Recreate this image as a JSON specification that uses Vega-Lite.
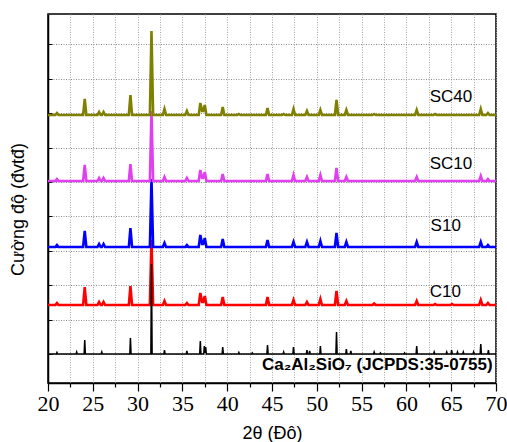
{
  "$schema": "https://vega.github.io/schema/vega-lite/v6.json",
  "width": 448,
  "height": 369,
  "autosize": {"type": "none"},
  "padding": {"left": 48, "top": 14, "right": 11, "bottom": 59},
  "background": "white",
  "config": {
    "view": {"stroke": "#000", "strokeWidth": 1.5},
    "axisX": {"labelFont": "Times New Roman, Liberation Serif, serif"}
  },
  "datasets": {
    "ref": [
      {"x":20,"y":0},
      {"x":20.93,"y":0},{"x":21.0,"y":1.5},{"x":21.07,"y":0},
      {"x":23.13,"y":0},{"x":23.2,"y":2},{"x":23.27,"y":0},
      {"x":24.03,"y":0},{"x":24.1,"y":14},{"x":24.17,"y":0},
      {"x":25.93,"y":0},{"x":26.0,"y":2},{"x":26.07,"y":0},
      {"x":29.13,"y":0},{"x":29.2,"y":16},{"x":29.27,"y":0},
      {"x":31.48,"y":0},{"x":31.55,"y":90},{"x":31.62,"y":0},
      {"x":32.93,"y":0},{"x":33.0,"y":4},{"x":33.07,"y":0},
      {"x":35.43,"y":0},{"x":35.5,"y":3},{"x":35.57,"y":0},
      {"x":36.93,"y":0},{"x":37.0,"y":13},{"x":37.07,"y":0},
      {"x":37.38,"y":0},{"x":37.45,"y":8},{"x":37.52,"y":1},{"x":37.6,"y":7},{"x":37.67,"y":0},
      {"x":39.43,"y":0},{"x":39.5,"y":7},{"x":39.57,"y":0},
      {"x":41.23,"y":0},{"x":41.3,"y":1.5},{"x":41.37,"y":0},
      {"x":42.73,"y":0},{"x":42.8,"y":1},{"x":42.87,"y":0},
      {"x":44.43,"y":0},{"x":44.5,"y":9},{"x":44.57,"y":0},
      {"x":46.23,"y":0},{"x":46.3,"y":2},{"x":46.37,"y":0},
      {"x":47.33,"y":0},{"x":47.4,"y":7},{"x":47.47,"y":0},
      {"x":48.83,"y":0},{"x":48.9,"y":4},{"x":48.97,"y":0},
      {"x":49.13,"y":0},{"x":49.2,"y":3},{"x":49.27,"y":0},
      {"x":50.33,"y":0},{"x":50.4,"y":8},{"x":50.47,"y":0},
      {"x":52.13,"y":0},{"x":52.2,"y":22},{"x":52.27,"y":0},
      {"x":53.23,"y":0},{"x":53.3,"y":5},{"x":53.37,"y":0},
      {"x":53.73,"y":0},{"x":53.8,"y":3},{"x":53.87,"y":0},
      {"x":56.33,"y":0},{"x":56.4,"y":2},{"x":56.47,"y":0},
      {"x":57.03,"y":0},{"x":57.1,"y":1},{"x":57.17,"y":0},
      {"x":59.73,"y":0},{"x":59.8,"y":1},{"x":59.87,"y":0},
      {"x":61.08,"y":0},{"x":61.15,"y":8},{"x":61.22,"y":0},
      {"x":63.03,"y":0},{"x":63.1,"y":2},{"x":63.17,"y":0},
      {"x":64.43,"y":0},{"x":64.5,"y":2},{"x":64.57,"y":0},
      {"x":64.98,"y":0},{"x":65.05,"y":4},{"x":65.12,"y":0},
      {"x":65.63,"y":0},{"x":65.7,"y":2},{"x":65.77,"y":0},
      {"x":66.28,"y":0},{"x":66.35,"y":2},{"x":66.42,"y":0},
      {"x":67.43,"y":0},{"x":67.5,"y":2},{"x":67.57,"y":0},
      {"x":68.23,"y":0},{"x":68.3,"y":10},{"x":68.37,"y":0},
      {"x":69.08,"y":0},{"x":69.15,"y":4},{"x":69.22,"y":0},
      {"x":70,"y":0}
    ],
    "c10": [
      {"x":20,"y":49},
      {"x":20.82,"y":49},{"x":21.0,"y":51},{"x":21.18,"y":49},
      {"x":23.92,"y":49},{"x":24.1,"y":67},{"x":24.28,"y":49},
      {"x":25.52,"y":49},{"x":25.7,"y":52},{"x":25.88,"y":49},
      {"x":26.02,"y":49},{"x":26.2,"y":52},{"x":26.38,"y":49},
      {"x":29.02,"y":49},{"x":29.2,"y":68},{"x":29.38,"y":49},
      {"x":31.37,"y":49},{"x":31.55,"y":114},{"x":31.73,"y":49},
      {"x":32.82,"y":49},{"x":33.0,"y":53},{"x":33.18,"y":49},
      {"x":35.32,"y":49},{"x":35.5,"y":51},{"x":35.68,"y":49},
      {"x":36.82,"y":49},{"x":37.0,"y":61},{"x":37.2,"y":52},{"x":37.32,"y":52},{"x":37.5,"y":58},{"x":37.68,"y":49},
      {"x":39.32,"y":49},{"x":39.5,"y":57},{"x":39.68,"y":49},
      {"x":44.32,"y":49},{"x":44.5,"y":57},{"x":44.68,"y":49},
      {"x":47.22,"y":49},{"x":47.4,"y":54},{"x":47.58,"y":49},
      {"x":48.72,"y":49},{"x":48.9,"y":52},{"x":49.08,"y":49},
      {"x":50.22,"y":49},{"x":50.4,"y":55},{"x":50.58,"y":49},
      {"x":52.02,"y":49},{"x":52.2,"y":63},{"x":52.38,"y":49},
      {"x":53.12,"y":49},{"x":53.3,"y":53},{"x":53.48,"y":49},
      {"x":56.22,"y":49},{"x":56.4,"y":50.5},{"x":56.58,"y":49},
      {"x":60.97,"y":49},{"x":61.15,"y":53},{"x":61.33,"y":49},
      {"x":63.02,"y":49},{"x":63.2,"y":50},{"x":63.38,"y":49},
      {"x":64.92,"y":49},{"x":65.1,"y":50},{"x":65.28,"y":49},
      {"x":68.12,"y":49},{"x":68.3,"y":54},{"x":68.48,"y":49},
      {"x":68.92,"y":49},{"x":69.1,"y":51},{"x":69.28,"y":49},
      {"x":70,"y":49}
    ],
    "s10": [
      {"x":20,"y":107},
      {"x":20.82,"y":107},{"x":21.0,"y":109},{"x":21.18,"y":107},
      {"x":23.92,"y":107},{"x":24.1,"y":123},{"x":24.28,"y":107},
      {"x":25.52,"y":107},{"x":25.7,"y":110},{"x":25.88,"y":107},
      {"x":26.02,"y":107},{"x":26.2,"y":110},{"x":26.38,"y":107},
      {"x":29.02,"y":107},{"x":29.2,"y":126},{"x":29.38,"y":107},
      {"x":31.37,"y":107},{"x":31.55,"y":175},{"x":31.73,"y":107},
      {"x":32.82,"y":107},{"x":33.0,"y":111},{"x":33.18,"y":107},
      {"x":35.32,"y":107},{"x":35.5,"y":109},{"x":35.68,"y":107},
      {"x":36.82,"y":107},{"x":37.0,"y":119},{"x":37.2,"y":110},{"x":37.32,"y":110},{"x":37.5,"y":116},{"x":37.68,"y":107},
      {"x":39.32,"y":107},{"x":39.5,"y":115},{"x":39.68,"y":107},
      {"x":44.32,"y":107},{"x":44.5,"y":114},{"x":44.68,"y":107},
      {"x":47.22,"y":107},{"x":47.4,"y":112},{"x":47.58,"y":107},
      {"x":48.72,"y":107},{"x":48.9,"y":112},{"x":49.08,"y":107},
      {"x":50.22,"y":107},{"x":50.4,"y":113},{"x":50.58,"y":107},
      {"x":52.02,"y":107},{"x":52.2,"y":121},{"x":52.38,"y":107},
      {"x":53.12,"y":107},{"x":53.3,"y":112},{"x":53.48,"y":107},
      {"x":60.97,"y":107},{"x":61.15,"y":112},{"x":61.33,"y":107},
      {"x":68.12,"y":107},{"x":68.3,"y":112},{"x":68.48,"y":107},
      {"x":68.92,"y":107},{"x":69.1,"y":109},{"x":69.28,"y":107},
      {"x":70,"y":107}
    ],
    "sc10": [
      {"x":20,"y":173},
      {"x":20.82,"y":173},{"x":21.0,"y":175},{"x":21.18,"y":173},
      {"x":23.92,"y":173},{"x":24.1,"y":189},{"x":24.28,"y":173},
      {"x":25.52,"y":173},{"x":25.7,"y":176},{"x":25.88,"y":173},
      {"x":26.02,"y":173},{"x":26.2,"y":176},{"x":26.38,"y":173},
      {"x":29.02,"y":173},{"x":29.2,"y":190},{"x":29.38,"y":173},
      {"x":31.37,"y":173},{"x":31.55,"y":243},{"x":31.73,"y":173},
      {"x":32.82,"y":173},{"x":33.0,"y":177},{"x":33.18,"y":173},
      {"x":35.32,"y":173},{"x":35.5,"y":176},{"x":35.68,"y":173},
      {"x":36.82,"y":173},{"x":37.0,"y":184},{"x":37.2,"y":176},{"x":37.32,"y":176},{"x":37.5,"y":182},{"x":37.68,"y":173},
      {"x":39.32,"y":173},{"x":39.5,"y":180},{"x":39.68,"y":173},
      {"x":44.32,"y":173},{"x":44.5,"y":180},{"x":44.68,"y":173},
      {"x":47.22,"y":173},{"x":47.4,"y":179},{"x":47.58,"y":173},
      {"x":48.72,"y":173},{"x":48.9,"y":177},{"x":49.08,"y":173},
      {"x":50.22,"y":173},{"x":50.4,"y":179},{"x":50.58,"y":173},
      {"x":52.02,"y":173},{"x":52.2,"y":186},{"x":52.38,"y":173},
      {"x":53.12,"y":173},{"x":53.3,"y":177},{"x":53.48,"y":173},
      {"x":60.97,"y":173},{"x":61.15,"y":177},{"x":61.33,"y":173},
      {"x":68.12,"y":173},{"x":68.3,"y":178},{"x":68.48,"y":173},
      {"x":68.92,"y":173},{"x":69.1,"y":175},{"x":69.28,"y":173},
      {"x":70,"y":173}
    ],
    "sc40": [
      {"x":20,"y":239},
      {"x":20.82,"y":239},{"x":21.0,"y":241},{"x":21.18,"y":239},
      {"x":23.92,"y":239},{"x":24.1,"y":255},{"x":24.28,"y":239},
      {"x":25.52,"y":239},{"x":25.7,"y":242},{"x":25.88,"y":239},
      {"x":26.02,"y":239},{"x":26.2,"y":242},{"x":26.38,"y":239},
      {"x":29.02,"y":239},{"x":29.2,"y":259},{"x":29.38,"y":239},
      {"x":31.37,"y":239},{"x":31.55,"y":323},{"x":31.73,"y":239},
      {"x":32.82,"y":239},{"x":33.0,"y":245},{"x":33.18,"y":239},
      {"x":35.32,"y":239},{"x":35.5,"y":243},{"x":35.68,"y":239},
      {"x":36.82,"y":239},{"x":37.0,"y":251},{"x":37.2,"y":243},{"x":37.32,"y":243},{"x":37.5,"y":249},{"x":37.68,"y":239},
      {"x":39.32,"y":239},{"x":39.5,"y":247},{"x":39.68,"y":239},
      {"x":41.12,"y":239},{"x":41.3,"y":240},{"x":41.48,"y":239},
      {"x":44.32,"y":239},{"x":44.5,"y":246},{"x":44.68,"y":239},
      {"x":46.12,"y":239},{"x":46.3,"y":240},{"x":46.48,"y":239},
      {"x":47.22,"y":239},{"x":47.4,"y":245},{"x":47.58,"y":239},
      {"x":48.72,"y":239},{"x":48.9,"y":243},{"x":49.08,"y":239},
      {"x":50.22,"y":239},{"x":50.4,"y":244},{"x":50.58,"y":239},
      {"x":52.02,"y":239},{"x":52.2,"y":254},{"x":52.38,"y":239},
      {"x":53.12,"y":239},{"x":53.3,"y":244},{"x":53.48,"y":239},
      {"x":56.22,"y":239},{"x":56.4,"y":240},{"x":56.58,"y":239},
      {"x":60.97,"y":239},{"x":61.15,"y":244},{"x":61.33,"y":239},
      {"x":63.02,"y":239},{"x":63.2,"y":240},{"x":63.38,"y":239},
      {"x":68.12,"y":239},{"x":68.3,"y":245},{"x":68.48,"y":239},
      {"x":68.92,"y":239},{"x":69.1,"y":241},{"x":69.28,"y":239},
      {"x":70,"y":239}
    ],
    "labels": [
      {"x":62.6,"y":257,"t":"SC40"},
      {"x":62.6,"y":190,"t":"SC10"},
      {"x":62.7,"y":128,"t":"S10"},
      {"x":62.6,"y":61.7,"t":"C10"}
    ],
    "ref_label": [
      {"x":69.63,"y":-11,"t":"Ca₂Al₂SiO₇ (JCPDS:35-0755)"}
    ]
  },
  "encoding": {
    "x": {
      "field": "x", "type": "quantitative",
      "scale": {"domain": [20, 70], "nice": false, "zero": false},
      "axis": {
        "title": "2θ (Đô)",
        "titleFont": "Liberation Sans", "titleFontSize": 18, "titleFontWeight": "normal", "titleColor": "#000",
        "titlePadding": 10,
        "values": [20,22.5,25,27.5,30,32.5,35,37.5,40,42.5,45,47.5,50,52.5,55,57.5,60,62.5,65,67.5,70],
        "labelExpr": "datum.value % 5 === 0 ? datum.label : ''",
        "labelFontSize": 22, "labelColor": "#000",
        "labelPadding": 2, "labelFlush": false, "labelOverlap": false,
        "tickColor": "#000", "tickWidth": 1.2,
        "tickSize": {"condition": {"test": "datum.value % 5 === 0", "value": 8}, "value": 4},
        "domainColor": "#000", "domainWidth": 1.5,
        "grid": true, "gridColor": "#a8a8a8", "gridDash": [1, 1.5], "gridWidth": 1
      }
    },
    "y": {
      "field": "y", "type": "quantitative",
      "scale": {"domain": [-29, 340], "nice": false, "zero": false},
      "axis": {
        "title": "Cường độ (đvtđ)",
        "titleFont": "Liberation Sans", "titleFontSize": 18, "titleFontWeight": "normal", "titleColor": "#000",
        "titlePadding": 20, "titleY": 195,
        "values": [0, 34.4, 68.8, 103.2, 137.6, 172, 206.4, 240.8, 275.2, 309.6],
        "labels": false,
        "tickColor": "#000", "tickSize": -4, "tickWidth": 1,
        "domainColor": "#000", "domainWidth": 1.5,
        "grid": true, "gridColor": "#8a8a8a", "gridDash": [1, 1.5], "gridWidth": 1
      }
    }
  },
  "layer": [
    {"data": {"name": "c10"}, "mark": {"type": "line", "color": "#ff0000", "strokeWidth": 2.6, "clip": true}},
    {"data": {"name": "ref"}, "mark": {"type": "line", "color": "#000000", "strokeWidth": 1.5, "clip": true}},
    {"data": {"name": "s10"}, "mark": {"type": "line", "color": "#0000ff", "strokeWidth": 2.6, "clip": true}},
    {"data": {"name": "sc10"}, "mark": {"type": "line", "color": "#e040f0", "strokeWidth": 2.6, "clip": true}},
    {"data": {"name": "sc40"}, "mark": {"type": "line", "color": "#808000", "strokeWidth": 2.6, "clip": true}},
    {"data": {"name": "labels"}, "mark": {"type": "text", "align": "left", "baseline": "middle", "font": "Liberation Sans", "fontSize": 17, "color": "#000"},
     "encoding": {"text": {"field": "t"}}},
    {"data": {"name": "ref_label"}, "mark": {"type": "text", "align": "right", "baseline": "middle", "font": "Liberation Sans", "fontSize": 17, "fontWeight": "bold", "color": "#000"},
     "encoding": {"text": {"field": "t"}}}
  ]
}
